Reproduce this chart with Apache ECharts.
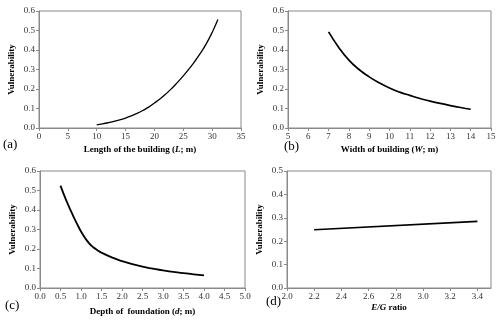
<!DOCTYPE html>
<html>
<head>
<meta charset="utf-8">
<title>Vulnerability charts</title>
<script src="https://cdn.jsdelivr.net/npm/echarts@6/dist/echarts.min.js"></script>
<style>
  html, body { margin: 0; padding: 0; background: #fff; }
  #chart { width: 500px; height: 323px; }
</style>
</head>
<body>
<div id="chart"></div>
<script>
// (a) length of the building
var lengthX = [10, 11, 12, 13, 14, 15, 16, 17, 18, 19, 20, 21, 22, 23, 24, 25, 26, 27, 28, 29, 30, 31]
var lengthV = [0.016, 0.021, 0.027, 0.034, 0.042, 0.051, 0.062, 0.075, 0.090, 0.107, 0.128, 0.150, 0.175, 0.203, 0.234, 0.267, 0.303, 0.342, 0.385, 0.433, 0.490, 0.556]
// (b) width of building
var widthX = [7, 7.5, 8, 8.5, 9, 9.5, 10, 10.5, 11, 11.5, 12, 12.5, 13, 13.5, 14]
var widthV = [0.493, 0.413, 0.348, 0.300, 0.262, 0.231, 0.205, 0.184, 0.167, 0.151, 0.138, 0.126, 0.115, 0.105, 0.096]
// (c) depth of foundation
var depthX = [0.5, 0.6, 0.7, 0.8, 0.9, 1.0, 1.1, 1.2, 1.3, 1.4, 1.5, 1.75, 2.0, 2.25, 2.5, 2.75, 3.0, 3.25, 3.5, 3.75, 4.0]
var depthV = [0.525, 0.470, 0.420, 0.374, 0.330, 0.290, 0.256, 0.229, 0.209, 0.194, 0.181, 0.157, 0.138, 0.122, 0.109, 0.099, 0.090, 0.083, 0.076, 0.070, 0.065]
// (d) E/G ratio
var ratioX = [2.2, 3.4]
var ratioV = [0.249, 0.285]

var panelLabels = ['(a)', '(b)', '(c)', '(d)']

var serif = '"Liberation Serif", "DejaVu Serif", serif'
var axisGray = '#8a8a8a'

function pairs(xs, ys) {
  return xs.map(function (x, i) { return [x, ys[i]] })
}

function xAxisOf(idx, min, max, interval, name, fmt, gap, showMax) {
  return {
    type: 'value',
    gridIndex: idx,
    min: min,
    max: max,
    interval: interval,
    name: name,
    nameLocation: 'middle',
    nameGap: gap,
    nameTextStyle: {
      fontFamily: serif,
      fontSize: 9,
      fontWeight: 'bold',
      color: '#000',
      rich: {
        b: { fontFamily: serif, fontSize: 9, fontWeight: 'bold', color: '#000' },
        i: { fontFamily: serif, fontSize: 9, fontWeight: 'bold', fontStyle: 'italic', color: '#000' }
      }
    },
    axisLine: { show: true, lineStyle: { color: axisGray, width: 1 } },
    axisTick: { show: true, length: 3, lineStyle: { color: axisGray } },
    axisLabel: {
      fontFamily: serif, fontSize: 9, color: '#333', margin: 4,
      showMaxLabel: showMax,
      formatter: fmt
    },
    splitLine: { show: false }
  }
}

function yAxisOf(idx, max) {
  return {
    type: 'value',
    gridIndex: idx,
    min: 0,
    max: max,
    interval: 0.1,
    name: 'Vulnerability',
    nameLocation: 'middle',
    nameGap: 23,
    nameTextStyle: { fontFamily: serif, fontSize: 9, fontWeight: 'bold', color: '#000' },
    axisLine: { show: true, lineStyle: { color: axisGray, width: 1 } },
    axisTick: { show: true, length: 3, lineStyle: { color: axisGray } },
    axisLabel: {
      fontFamily: serif, fontSize: 9, color: '#333', margin: 4,
      formatter: function (v) { return v.toFixed(1) }
    },
    splitLine: { show: false }
  }
}

function lineOf(idx, data, width) {
  return {
    type: 'line',
    xAxisIndex: idx,
    yAxisIndex: idx,
    data: data,
    smooth: true,
    showSymbol: false,
    lineStyle: { color: '#000', width: width }
  }
}

var chart = echarts.init(document.getElementById('chart'))
var gridBox = { show: true, borderColor: axisGray, borderWidth: 1 }

chart.setOption({
  animation: false,
  grid: [
    Object.assign({ left: 39, top: 11, width: 202, height: 117 }, gridBox),
    Object.assign({ left: 288, top: 11, width: 203, height: 117 }, gridBox),
    Object.assign({ left: 40, top: 171, width: 205, height: 117 }, gridBox),
    Object.assign({ left: 287, top: 171, width: 204, height: 117 }, gridBox)
  ],
  xAxis: [
    xAxisOf(0, 0, 35, 5, '{b|Length of the building (}{i|L}{b|; m)}', function (v) { return String(v) }, 17, true),
    xAxisOf(1, 5, 15, 1, '{b|Width of building (}{i|W}{b|; m)}', function (v) { return String(v) }, 17, true),
    xAxisOf(2, 0, 5, 0.5, '{b|Depth of  foundation (}{i|d}{b|; m)}', function (v) { return v.toFixed(1) }, 19, true),
    xAxisOf(3, 2.0, 3.5, 0.2, '{i|E/G}{b| ratio}', function (v) { return v.toFixed(1) }, 15, false)
  ],
  yAxis: [
    yAxisOf(0, 0.6),
    yAxisOf(1, 0.6),
    yAxisOf(2, 0.6),
    yAxisOf(3, 0.5)
  ],
  series: [
    lineOf(0, pairs(lengthX, lengthV), 1.3),
    lineOf(1, pairs(widthX, widthV), 1.7),
    lineOf(2, pairs(depthX, depthV), 1.8),
    lineOf(3, pairs(ratioX, ratioV), 1.7)
  ],
  graphic: [
    { type: 'text', left: 3, top: 138, style: { text: panelLabels[0], font: '13px ' + serif, fill: '#000' } },
    { type: 'text', left: 284, top: 140, style: { text: panelLabels[1], font: '13px ' + serif, fill: '#000' } },
    { type: 'text', left: 5, top: 299, style: { text: panelLabels[2], font: '13px ' + serif, fill: '#000' } },
    { type: 'text', left: 266, top: 295, style: { text: panelLabels[3], font: '13px ' + serif, fill: '#000' } }
  ]
})
</script>
</body>
</html>
